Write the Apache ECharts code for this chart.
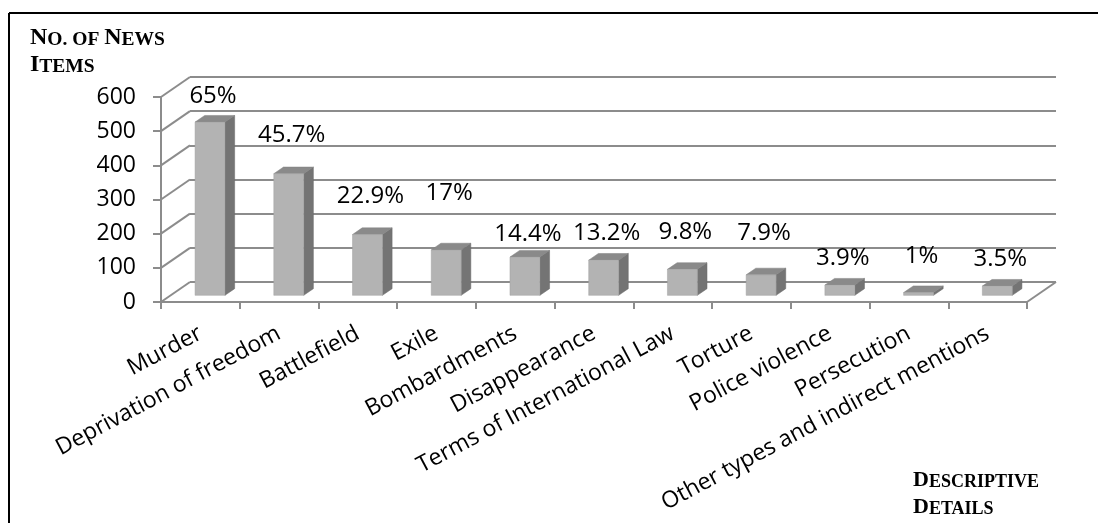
<!DOCTYPE html>
<html><head><meta charset="utf-8">
<script src="https://cdn.jsdelivr.net/npm/echarts@6/dist/echarts.min.js"></script>
<style>html,body{margin:0;padding:0;background:#fff}#chart{width:1098px;height:523px}</style>
</head><body><div id="chart"></div>
<script>
// ---- data ----
const categories = ['Murder', 'Deprivation of freedom', 'Battlefield', 'Exile', 'Bombardments', 'Disappearance',
  'Terms of International Law', 'Torture', 'Police violence', 'Persecution', 'Other types and indirect mentions'];
const newsItems = [507, 356, 178, 133, 112, 103, 76, 60, 30, 8, 27];
const shareLabels = ['65%', '45.7%', '22.9%', '17%', '14.4%', '13.2%', '9.8%', '7.9%', '3.9%', '1%', '3.5%'];
const yTicks = [0, 100, 200, 300, 400, 500, 600];

// ---- layout / style ----
const GRID = { left: 161, right: 71, top: 97, bottom: 221 };
const DX = 29, DY = -20;            // depth of the 3D box
const BAR_FRAC = 0.38;              // bar width share of a category band
const LABEL_LIFT = [26, 39, 38, 57, 23, 27, 37, 42, 27, 36, 27]; // px above bar top
const GRID_COLOR = '#8c8c8c';
const SANS = 'Open Sans';
const SERIF = 'Liberation Serif';

const chart = echarts.init(document.getElementById('chart'), null, { renderer: 'canvas' });
const lineStyle = { color: GRID_COLOR, width: 2 };

function smallCaps(parts) {
  return parts.map(p => '{' + (p[0]) + '|' + p[1] + '}').join('');
}
const richTitle = (big, small) => ({
  b: { fontFamily: SERIF, fontWeight: 'bold', fontSize: big, color: '#000', verticalAlign: 'bottom' },
  s: { fontFamily: SERIF, fontWeight: 'bold', fontSize: small, color: '#000', verticalAlign: 'bottom' }
});

const option = {
  backgroundColor: '#fff',
  animation: false,
  grid: [
    { left: GRID.left, right: GRID.right, top: GRID.top, bottom: GRID.bottom },
    { left: GRID.left + DX, right: GRID.right - DX, top: GRID.top + DY, bottom: GRID.bottom - DY }
  ],
  xAxis: [
    {
      gridIndex: 0, type: 'category', data: categories,
      axisLine: { show: true, lineStyle },
      axisTick: { show: true, length: 7, lineStyle },
      axisLabel: { interval: 0, rotate: 28, fontSize: 23, fontFamily: SANS, color: '#000', margin: 30 }
    },
    { gridIndex: 1, type: 'category', data: categories, show: false }
  ],
  yAxis: [
    {
      gridIndex: 0, type: 'value', min: 0, max: 600, interval: 100,
      axisLine: { show: true, lineStyle },
      axisTick: { show: true, length: 8, lineStyle },
      splitLine: { show: false },
      axisLabel: { fontSize: 23, fontFamily: SANS, color: '#000', margin: 25 }
    },
    {
      gridIndex: 1, type: 'value', min: 0, max: 600, interval: 100,
      axisLine: { show: false }, axisTick: { show: false }, axisLabel: { show: false },
      splitLine: { show: true, lineStyle }
    }
  ],
  series: [
    {
      type: 'custom', xAxisIndex: 0, yAxisIndex: 0, z: 1, silent: true,
      data: yTicks.map(v => [0, v]),
      renderItem(params, api) {
        const cs = params.coordSys;
        const v = api.value(1);
        const y = api.coord([0, v])[1];
        const st = { stroke: GRID_COLOR, lineWidth: 2 };
        const children = [{ type: 'line', shape: { x1: cs.x, y1: y, x2: cs.x + DX, y2: y + DY }, style: st }];
        if (v === 0) {
          children.push({ type: 'line', shape: { x1: cs.x + cs.width, y1: y, x2: cs.x + cs.width + DX, y2: y + DY }, style: st });
        }
        return { type: 'group', children };
      }
    },
    {
      type: 'custom', xAxisIndex: 0, yAxisIndex: 0, z: 3, silent: true,
      data: newsItems.map((v, i) => [i, v]),
      renderItem(params, api) {
        const i = api.value(0), v = api.value(1);
        const base = api.coord([i, 0]);
        const top = api.coord([i, v]);
        const bw = api.size([1, 0])[0] * BAR_FRAC;
        const fx = DX / 3, fy = DY / 3;
        const x0 = base[0] + fx - bw / 2, x1 = x0 + bw;
        const yb = base[1] + fy, yt = top[1] + fy;
        return {
          type: 'group',
          children: [
            { type: 'polygon', shape: { points: [[x1, yb], [x1, yt], [x1 + fx, yt + fy], [x1 + fx, yb + fy]] },
              style: { fill: '#747474', stroke: '#6a6a6a', lineWidth: 0.5 } },
            { type: 'polygon', shape: { points: [[x0, yt], [x1, yt], [x1 + fx, yt + fy], [x0 + fx, yt + fy]] },
              style: { fill: '#8a8a8a', stroke: '#808080', lineWidth: 0.5 } },
            { type: 'rect', shape: { x: x0, y: yt, width: bw, height: Math.max(yb - yt, 0.5) },
              style: { fill: '#b3b3b3', stroke: '#a0a0a0', lineWidth: 0.5 } },
            { type: 'text', style: { text: shareLabels[i], x: (x0 + x1) / 2 + 3, y: yt - LABEL_LIFT[i],
              align: 'center', verticalAlign: 'middle', fontSize: 24, fontFamily: SANS, fill: '#000' } }
          ]
        };
      }
    }
  ],
  graphic: [
    { type: 'line', shape: { x1: 9, y1: 13, x2: 1098, y2: 13 }, style: { stroke: '#000', lineWidth: 2 } },
    { type: 'line', shape: { x1: 9, y1: 13, x2: 9, y2: 523 }, style: { stroke: '#000', lineWidth: 2 } },
    { type: 'text', left: 30, top: 26, style: { text: smallCaps([['b', 'N'], ['s', 'O. OF '], ['b', 'N'], ['s', 'EWS']]), rich: richTitle(24, 19.5) } },
    { type: 'text', left: 30, top: 53, style: { text: smallCaps([['b', 'I'], ['s', 'TEMS']]), rich: richTitle(24, 19.5) } },
    { type: 'text', left: 913, top: 469, style: { text: smallCaps([['b', 'D'], ['s', 'ESCRIPTIVE']]), rich: richTitle(22, 18) } },
    { type: 'text', left: 913, top: 496, style: { text: smallCaps([['b', 'D'], ['s', 'ETAILS']]), rich: richTitle(22, 18) } }
  ]
};
chart.setOption(option);
</script>
</body></html>
